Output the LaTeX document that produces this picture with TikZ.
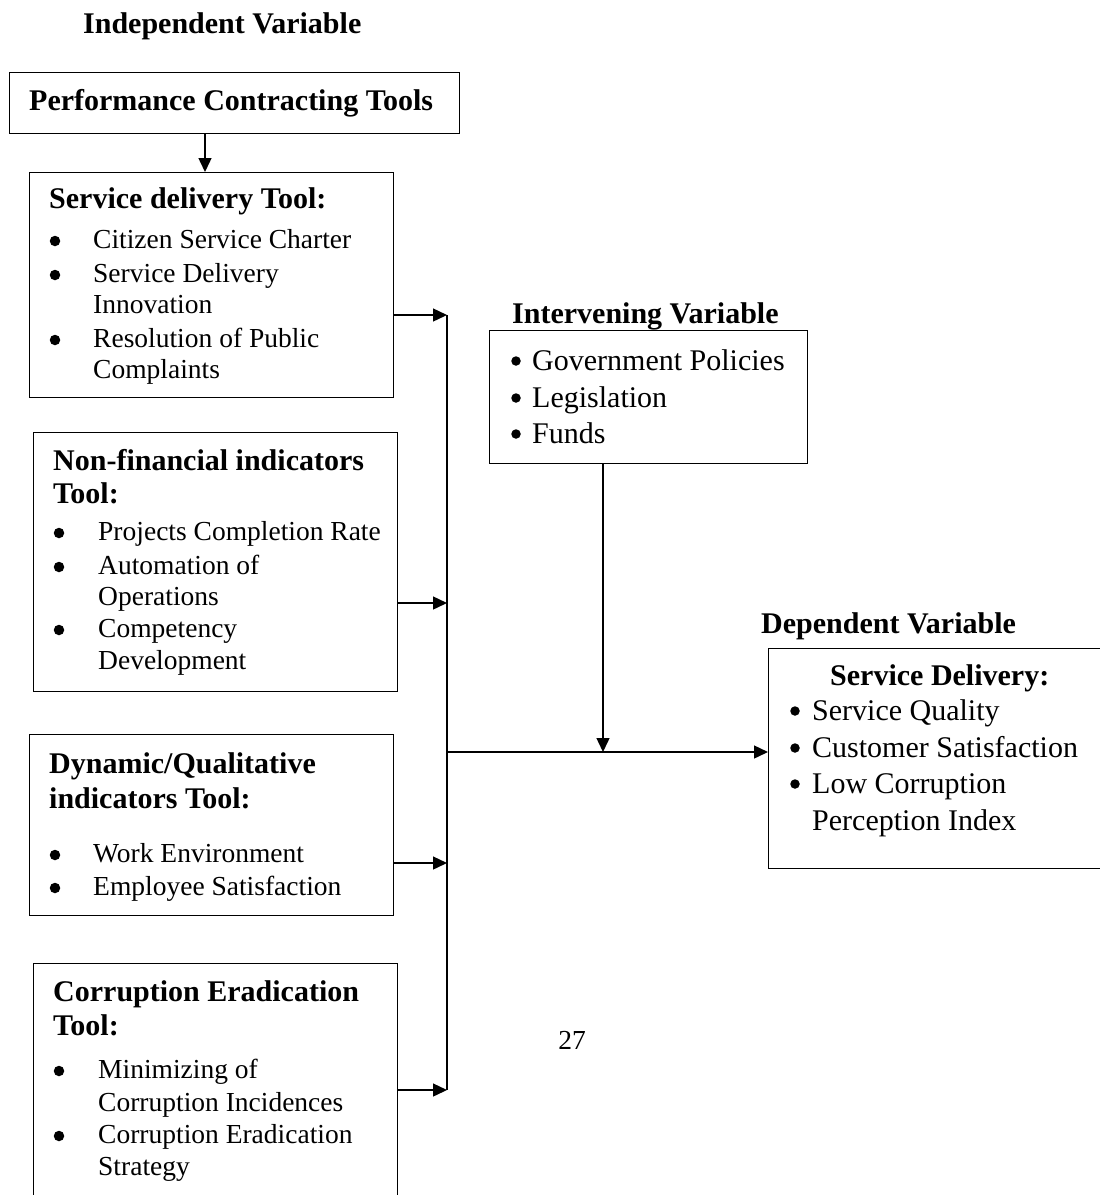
\documentclass[tikz,border=0pt]{standalone}
\usepackage{fontspec}
\setmainfont{Liberation Serif}
\usetikzlibrary{arrows.meta}
\begin{document}
\begin{tikzpicture}[x=1pt,y=-1pt,
  box/.style={draw,line width=1.4pt,inner sep=0pt,anchor=north west},
  ttl/.style={anchor=base west,inner sep=0pt,font=\fontsize{30}{34}\selectfont\bfseries},
  itm/.style={anchor=base west,inner sep=0pt,font=\fontsize{27.5}{32}\selectfont},
  big/.style={anchor=base west,inner sep=0pt,font=\fontsize{30}{34}\selectfont},
  bul/.style={circle,fill=black,inner sep=0pt,minimum size=10.5pt},
  sbul/.style={circle,fill=black,inner sep=0pt,minimum size=9.5pt},
  conn/.style={line width=1.4pt},
  arr/.style={conn,-{Triangle[length=14pt,width=13pt]}}]
\useasboundingbox (0,0) rectangle (1100,1195);
\fill[white] (0,0) rectangle (1100,1195);

% headings
\node[ttl] (indep) at (83,33) {Independent Variable};
\node[ttl] (intervt) at (512,323) {Intervening Variable};
\node[ttl] (dept) at (761,633) {Dependent Variable};

% top box
\node[box,minimum width=450pt,minimum height=61pt] (pct) at (9,72) {};
\node[ttl] (pcttxt) at (29,110) {Performance Contracting Tools};

% box 1: service delivery tool
\node[box,minimum width=364pt,minimum height=225pt] (sd) at (29,172) {};
\node[ttl] (sdt) at (49,208) {Service delivery Tool:};
\node[bul] (sdb1) at (55,241) {};
\node[itm] (sdi1) at (93,248) {Citizen Service Charter};
\node[bul] (sdb2) at (55,275) {};
\node[itm] (sdi2) at (93,282) {Service Delivery};
\node[itm] (sdi3) at (93,313) {Innovation};
\node[bul] (sdb3) at (55,340) {};
\node[itm] (sdi4) at (93,347) {Resolution of Public};
\node[itm] (sdi5) at (93,378) {Complaints};

% box 2: non-financial
\node[box,minimum width=364pt,minimum height=259pt] (nf) at (33,432) {};
\node[ttl] (nft1) at (53,470) {Non-financial indicators};
\node[ttl] (nft2) at (53,503) {Tool:};
\node[bul] (nfb1) at (59,533) {};
\node[itm] (nfi1) at (98,540) {Projects Completion Rate};
\node[bul] (nfb2) at (59,567) {};
\node[itm] (nfi2) at (98,574) {Automation of};
\node[itm] (nfi3) at (98,605) {Operations};
\node[bul] (nfb3) at (59,630) {};
\node[itm] (nfi4) at (98,637) {Competency};
\node[itm] (nfi5) at (98,669) {Development};

% box 3: dynamic/qualitative
\node[box,minimum width=364pt,minimum height=181pt] (dq) at (29,734) {};
\node[ttl] (dqt1) at (49,773) {Dynamic/Qualitative};
\node[ttl] (dqt2) at (49,808) {indicators Tool:};
\node[bul] (dqb1) at (55,855) {};
\node[itm] (dqi1) at (93,862) {Work Environment};
\node[bul] (dqb2) at (55,888) {};
\node[itm] (dqi2) at (93,895) {Employee Satisfaction};

% box 4: corruption eradication
\node[box,minimum width=364pt,minimum height=240pt] (ce) at (33,963) {};
\node[ttl] (cet1) at (53,1001) {Corruption Eradication};
\node[ttl] (cet2) at (53,1035) {Tool:};
\node[bul] (ceb1) at (59,1071) {};
\node[itm] (cei1) at (98,1078) {Minimizing of};
\node[itm] (cei2) at (98,1111) {Corruption Incidences};
\node[bul] (ceb2) at (59,1136) {};
\node[itm] (cei3) at (98,1143) {Corruption Eradication};
\node[itm] (cei4) at (98,1175) {Strategy};

% intervening box
\node[box,minimum width=318pt,minimum height=133pt] (iv) at (489,330) {};
\node[sbul] (ivb1) at (516,361) {};
\node[big] (ivi1) at (532,370) {Government Policies};
\node[sbul] (ivb2) at (516,398) {};
\node[big] (ivi2) at (532,407) {Legislation};
\node[sbul] (ivb3) at (516,434) {};
\node[big] (ivi3) at (532,443) {Funds};

% dependent box
\node[box,minimum width=345pt,minimum height=220pt] (dep) at (768,648) {};
\node[ttl] (dept2) at (830,685) {Service Delivery:};
\node[sbul] (depb1) at (795,711) {};
\node[big] (depi1) at (812,720) {Service Quality};
\node[sbul] (depb2) at (795,748) {};
\node[big] (depi2) at (812,757) {Customer Satisfaction};
\node[sbul] (depb3) at (795,784) {};
\node[big] (depi3) at (812,793) {Low Corruption};
\node[big] (depi4) at (812,830) {Perception Index};

% page number
\node[itm,anchor=center] (pageno) at (572,1040) {27};

% connectors
\coordinate (pctx) at (205,0);
\coordinate (b1) at (447,315);
\coordinate (b2) at (447,603);
\coordinate (bj) at (447,752);
\coordinate (b3) at (447,863);
\coordinate (b4) at (447,1090);
\coordinate (ivx) at (603,0);

\draw[arr] (pct.south -| pctx) -- (sd.north -| pctx);
\draw[conn] (b1) -- (b4);
\draw[arr] (sd.east |- b1) -- (b1);
\draw[arr] (nf.east |- b2) -- (b2);
\draw[arr] (dq.east |- b3) -- (b3);
\draw[arr] (ce.east |- b4) -- (b4);
\draw[arr] (bj) -- (dep.west |- bj);
\draw[arr] (iv.south -| ivx) -- (ivx |- bj);
\end{tikzpicture}
\end{document}
